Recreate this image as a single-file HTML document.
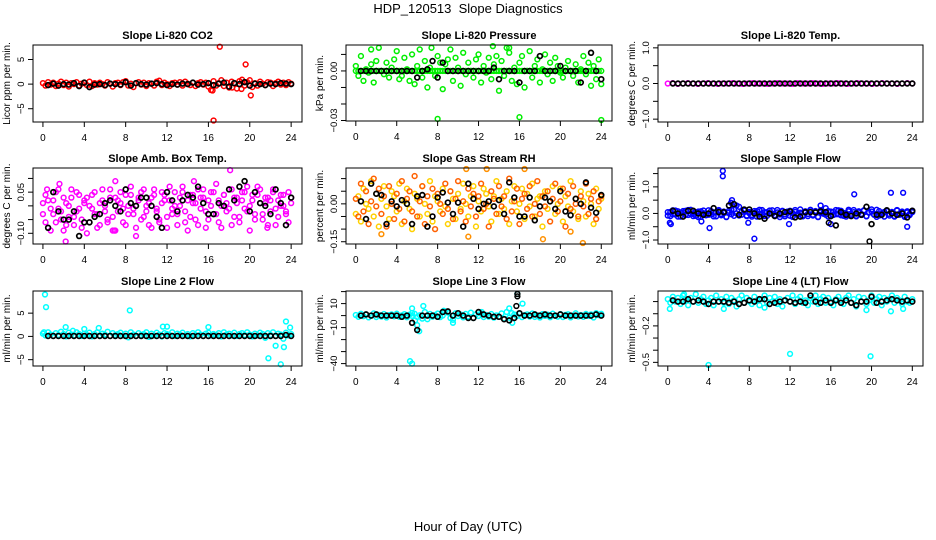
<!DOCTYPE html>
<html><head><meta charset="utf-8">
<style>
html,body{margin:0;padding:0;background:#fff;}
svg{display:block;font-family:"Liberation Sans",Arial,sans-serif;}
</style></head>
<body>
<svg id="chart" width="936" height="540" viewBox="0 0 936 540" xmlns="http://www.w3.org/2000/svg">
<text x="468" y="13" font-size="13" text-anchor="middle">HDP_120513&#160; Slope Diagnostics</text>
<text x="468" y="531" font-size="13" text-anchor="middle">Hour of Day (UTC)</text>
</svg>
<script>
// ---------- DATA ----------
const xTicks = [0,4,8,12,16,20,24];

const co2Vals = [0.2,-0.3,0.4,-0.1,0.3,-0.4,0.1,0.5,-0.2,0.3,-0.5,0.2,0.0,0.4,-0.3,0.1,0.3,-0.2,0.5,-0.4,0.2,-0.1,0.3,0.0,-0.3,0.4,0.1,-0.5,0.2,0.3,-0.2,0.4,0.6,-0.3,0.1,-0.6,0.2,0.4,-0.1,0.3,-0.4,0.2,0.1,-0.3,0.5,0.7,-0.2,0.3,0.0,-0.4,0.2,0.3,-0.1,0.4,-0.3,0.5,0.1,-0.2,0.3,-0.4,0.2,0.4,-0.1,0.3,-0.5,-1.2,0.6,-0.3,0.2,0.8,-0.4,0.3,-0.7,0.5,0.2,-0.9,0.6,0.9,-0.3,0.4,0.8,-0.6,0.2,-0.3,0.5,0.1,-0.2,0.4,0.3,-0.4,0.2,0.5,-0.1,0.3,-0.2,0.4,0.1];
const co2OutX = [16.5,17.1,19.6,20.1,16.4,19.2,18.3];
const co2OutY = [-7.4,7.6,4.0,-2.3,-1.3,-1.0,-0.7];
const co2Black = [-0.2,0.1,-0.3,0,-0.1,0.2,-0.4,0.3,-0.6,-0.1,0,-0.2,0.1,0,-0.1,0.4,-0.3,0.2,0,-0.1,0.1,0.2,0,-0.2,0,-0.1,0.1,0,0.3,-0.1,0,0.2,-0.2,0.1,0.3,-0.5,0.2,0,0.4,-0.3,0.1,0,-0.2,0.1,0,0.2,0.1,0];

const presVals = [0.003,-0.003,0.009,-0.006,0.001,-0.001,0.004,-0.007,0.006,0.014,0,-0.002,0.005,-0.004,0.002,0.007,0.012,-0.005,-0.003,0.008,0.001,-0.006,0.010,-0.008,0.003,0.013,-0.004,0.006,-0.010,0.002,0,-0.003,0.009,0.005,-0.011,0.004,0.007,0.013,-0.006,0.008,0.002,-0.009,0.011,-0.002,0.005,0,-0.004,0.007,0.010,-0.007,0.003,-0.001,0.008,-0.005,0.004,0.009,-0.012,0.006,-0.003,0.014,0.011,-0.006,0.002,-0.008,0.005,0.009,-0.010,0,0.012,-0.004,0.003,0.007,-0.007,0.001,0.010,-0.002,0.005,-0.006,0.008,0.003,-0.001,-0.004,0.002,0.006,0,-0.003,0.004,-0.007,0.001,0.009,-0.002,0.005,-0.009,0.003,-0.005,0.007,-0.008];
const presZero = [0,0,0,0,0,0,0,0,0,0,0,0,0,0,0,0,0,0,0,0,0,0,0,0,0,0,0,0,0,0,0,0,0,0,0,0,0,0,0,0,0,0,0,0,0,0,0,0,0,0,0,0,0,0,0,0,0,0,0,0,0,0,0,0,0,0,0,0,0,0,0,0,0,0,0,0,0,0,0,0,0,0,0,0,0,0,0,0,0,0,0,0,0,0,0,0,0];
const presOutX = [8.0,16.0,24.0,1.5,7.4,13.4,15.0];
const presOutY = [-0.029,-0.028,-0.030,0.013,0.014,0.015,0.014];
const presBlack = [0,0,0,0,0,0,0,0,0,0,0,-0.004,0,0.001,0.006,-0.004,0.005,0,0,0,0,0,0,0,0,0,0.002,-0.005,0,0,0,-0.007,0,0,0,0.009,0,0,0,0.003,0,0,0,-0.007,0,0.011,0,-0.005];

const tempVals = [0,0.01,-0.01,0,0.01,0,-0.01,0,0.01,0,-0.01,0,0,0.01,0,-0.01,0,0.01,0,0,-0.01,0,0.01,0,0,-0.01,0.01,0,0,0.01,0,-0.01,0,0,0.01,0,-0.01,0,0.01,0,0,-0.01,0,0.01,0,0,-0.01,0,0.01,0];
const tempBlack = [0,0,0,0,0,0,0,0,0,0,0,0,0,0,0,0,0,0,0,0,0,0,0,0,0,0,0,0,0,0,0,0,0,0,0,0,0,0,0,0,0,0,0,0,0,0,0,0];

const ambA = [-0.03,0.04,-0.08,-0.01,0.02,-0.06,0.06,-0.02,-0.09,0.01,-0.04,0.03,-0.07,0.05,-0.01,-0.05,0.02,-0.10,0,0.04,-0.03,-0.08,0.01,0.06,-0.02,-0.06,0.03,-0.04,-0.09,0.02,0.05,-0.01,-0.07,0,0.04,-0.03,-0.11,0.03,-0.05,0.06,-0.02,0.01,-0.08,0.04,-0.01,-0.06,0.05,0.02,-0.04,0.07,-0.03,0,-0.07,0.03,0.05,-0.02,-0.09,0.04,0.01,-0.05,0.06,-0.01,0.03,-0.08,0.02,0.05,-0.03,0.08,-0.06,0,0.04,-0.02,0.06,-0.07,0.03,0.01,-0.04,0.05,-0.01,0.07,-0.09,0.02,-0.03,0.04,0.06,-0.05,0.01,0.03,-0.02,0.05,-0.07,0.02,0,0.04,-0.03,-0.06,0.01];
const ambB = [0.01,-0.06,0.02,-0.09,-0.03,0.05,-0.01,-0.05,0.03,-0.07,0,0.06,-0.04,-0.02,0.04,-0.08,0.01,0.03,-0.06,-0.01,0.05,-0.03,-0.07,0.02,0,-0.05,0.06,-0.09,0.03,-0.02,0.01,-0.06,0.04,-0.03,0.07,-0.01,-0.08,0.02,0.05,-0.04,0,-0.07,0.03,0.06,-0.02,-0.05,0.01,0.04,-0.08,0.02,-0.01,0.05,-0.03,0,0.07,-0.06,0.02,-0.04,0.04,0.01,-0.07,0.03,0.06,-0.02,-0.05,0,0.05,-0.03,0.02,-0.08,0.04,0.01,-0.01,0.06,-0.04,0.03,-0.06,0.02,0.05,-0.02,0,0.04,-0.05,0.07,0.01,-0.03,0.03,-0.07,0.02,0.06,-0.01,-0.04,0.04,0,-0.02,0.05,0.03];
const ambOutX = [7.0,18.1,2.2,6.9,21.7,0.4,1.6,14.6];
const ambOutY = [0.09,0.13,-0.13,-0.09,-0.08,0.06,0.08,0.09];
const ambBlack = [-0.08,0.05,-0.02,-0.05,-0.05,-0.02,-0.11,-0.06,-0.06,-0.04,-0.03,0.01,0.02,0,-0.02,0.06,0.01,0,0.03,0.03,0,-0.04,-0.08,0.05,0.02,-0.02,0.02,0.04,0.03,0.07,0.01,-0.03,-0.03,0.01,0,0.06,0.02,0.07,0.09,-0.02,0.05,0.01,0,-0.03,0.06,0.01,-0.07,0.03];

const rhA = [0.02,-0.05,0.08,-0.03,0.05,-0.08,0.01,0.10,-0.01,0.06,-0.04,0.03,-0.09,0.07,0,-0.06,0.04,-0.02,0.09,-0.07,0.02,0.05,-0.03,0.11,-0.05,0.01,0.07,-0.08,0.03,-0.01,0.06,-0.10,0.04,0,-0.04,0.08,-0.02,0.05,-0.06,0.02,0.09,-0.03,0.01,-0.07,0.06,-0.01,0.04,-0.05,0.03,0.08,-0.02,0,-0.09,0.05,0.02,-0.04,0.07,-0.01,0.03,-0.06,0.10,-0.03,0.01,0.06,-0.08,0.02,0.04,-0.02,0.07,-0.05,0,0.09,-0.04,0.03,-0.01,0.05,-0.07,0.02,0.08,-0.03,0.01,0.06,-0.09,0.04,-0.02,0.07,0,-0.05,0.03,-0.01,0.08,-0.04,0.02,0.05,-0.06,0.01,0.03];
const rhB = [-0.04,0.03,-0.07,0.06,0,-0.02,0.09,-0.05,0.04,-0.09,0.02,0.07,-0.01,-0.06,0.05,0.03,-0.03,0.08,-0.08,0.01,0.06,-0.02,-0.10,0.04,0.02,-0.05,0.07,0,-0.04,0.09,-0.07,0.03,0.01,-0.03,0.06,-0.01,-0.08,0.05,0.02,-0.06,0.04,-0.02,0.08,0,-0.05,0.03,0.07,-0.09,0.01,-0.03,0.06,0.04,-0.01,-0.07,0.03,0.09,-0.04,0.02,-0.02,0.05,-0.08,0.01,0.07,-0.03,0,0.06,-0.06,0.04,-0.01,0.08,-0.05,0.02,0.03,-0.09,0.05,-0.02,0.01,0.07,-0.04,0,0.06,-0.07,0.03,-0.01,0.09,-0.03,0.02,-0.06,0.05,0.01,-0.05,0.04,0,-0.08,0.06,-0.02,0.02];
const rhOutX = [10.8,12.8,16.5,22.2,11.0,18.3,21.0,2.5];
const rhOutY = [0.14,0.14,0.14,-0.155,-0.13,-0.14,-0.11,-0.12];
const rhBlack = [0.01,-0.06,0.08,0.04,0.035,-0.08,0.01,-0.01,0.015,0,-0.08,0.03,0.035,-0.09,-0.05,0.025,0.045,0.005,-0.04,0.005,-0.09,0.08,0.02,-0.02,0,0.01,-0.01,0.015,-0.04,0.085,0.025,-0.05,-0.05,0.025,-0.065,-0.01,0.025,0.01,-0.02,0.05,-0.03,-0.045,0.02,0,0.085,-0.015,-0.035,0.035];

const flowA = [0.05,-0.10,0.12,-0.04,0.08,-0.12,0.03,0.10,-0.06,0.14,-0.02,-0.09,0.07,-0.13,0.11,0,-0.05,0.09,-0.11,0.04,0.13,-0.07,0.02,-0.14,0.10,-0.03,0.15,0.30,-0.08,0.06,0.12,-0.10,0.01,-0.06,0.09,-0.12,0.14,-0.03,0.05,-0.09,0.11,-0.01,-0.07,0.13,-0.04,0.08,-0.11,0.02,0.10,-0.13,0.06,-0.02,0.15,-0.08,0.03,-0.10,0.12,-0.05,0.09,-0.14,0.04,-0.01,0.20,-0.12,0.07,-0.06,0.13,-0.03,0.10,-0.09,0.01,0.14,-0.07,0.05,-0.11,0.08,-0.02,0.12,-0.10,0.03,0.15,-0.05,-0.13,0.09,-0.04,0.06,0.11,-0.08,0.02,-0.12,0.13,-0.01,0.07,-0.09,0.04,-0.06,0.10];
const flowB = [-0.08,0.06,-0.03,0.11,-0.12,0.02,0.09,-0.06,0.13,-0.01,-0.10,0.05,-0.14,0.08,0.01,-0.07,0.12,-0.04,0.04,-0.11,0.10,-0.02,0.07,-0.13,0.03,0.14,-0.09,0,0.25,-0.05,0.11,-0.08,0.06,-0.12,0.02,0.09,-0.03,0.13,-0.10,0.05,-0.01,0.12,-0.07,0.04,-0.14,0.10,-0.04,0.07,-0.09,0.01,0.13,-0.06,0.03,-0.11,0.08,-0.02,0.14,-0.08,0.05,-0.13,0.11,0,-0.05,0.09,-0.10,0.06,-0.03,0.12,-0.07,0.02,-0.12,0.08,-0.01,0.13,-0.09,0.04,-0.06,0.10,-0.11,0.03,0.07,-0.04,0.14,-0.08,0.01,-0.12,0.09,-0.02,0.06,-0.10,0.11,-0.05,0.03,-0.13,0.08,-0.01,0.05];
const flowOutX = [0.2,0.3,4.1,5.4,5.4,6.3,6.2,8.5,18.3,21.9,23.1,23.5,11.9,7.9,3.3,16.0,15.0];
const flowOutY = [-0.35,-0.40,-0.55,1.60,1.40,0.50,0.40,-0.95,0.72,0.78,0.78,-0.50,-0.40,-0.35,-0.30,-0.40,0.30];
const flowBlack = [0.1,0.0,-0.12,0.1,0.1,0.0,-0.05,0.0,0.2,0.05,0.05,0.3,0.35,-0.05,0.15,0.15,0.0,-0.12,-0.2,0.0,-0.1,0.0,0.05,0.08,-0.15,-0.12,0.05,0.05,0.04,0.08,0.05,-0.1,-0.45,0.05,-0.05,-0.1,0.0,-0.05,0.25,-0.4,-0.05,-0.05,0.12,0.0,-0.05,0.0,-0.15,0.1];
const flowBlackOutX = [19.8,15.8];
const flowBlackOutY = [-1.05,-0.35];

const l2Vals = [0.6,0.2,0.9,0.4,0.1,0.7,0.3,1.0,0.5,0.0,0.8,0.4,0.2,0.9,0.5,0.1,0.6,0.3,0.8,0.0,0.5,0.9,0.2,0.6,0.4,1.0,0.1,0.7,0.3,0.5,0.8,0.2,0.6,-0.2,0.9,0.4,0.1,0.7,0.3,0.5,0.9,-0.1,0.6,0.2,0.8,0.4,0.0,0.7,0.5,0.3,0.9,0.1,0.6,0.4,0.8,0.2,0.5,0.0,0.7,0.3,0.9,0.4,0.1,0.6,0.8,0.2,0.5,0.3,0.7,0.0,0.9,0.4,0.6,0.2,0.8,0.1,0.5,0.7,0.3,0.9,0.4,0.0,0.6,0.2,0.8,0.5,-0.3,0.7,0.3,0.9,0.1,0.6,0.4,-0.5,0.8,0.2,0.5];
const l2OutX = [0.2,0.3,8.4,11.6,12.0,16.0,2.2,2.9,5.4,4.0,21.8,22.5,23.0,23.3,23.5,23.9,0.1];
const l2OutY = [9.0,6.3,5.6,2.1,2.1,2.0,2.0,1.2,1.8,1.6,-4.7,-2.0,-6.0,-2.3,3.2,1.9,0.9];
const l2Black = [0.1,0.1,0.1,0.1,0.1,0.1,0.1,0.1,0.1,0.1,0.1,0.1,0.1,0.1,0.1,0.1,0.1,0.1,0.1,0.1,0.1,0.1,0.1,0.1,0.1,0.1,0.1,0.1,0.1,0.1,0.1,0.1,0.1,0.1,0.1,0.1,0.1,0.1,0.1,0.1,0.1,0.1,0.1,0.1,0.1,0.1,0.3,0.1];

const l3Vals = [0.5,-1.0,1.5,-0.5,1.0,-1.5,0.0,1.8,-1.2,0.6,-0.8,1.3,-1.6,0.4,1.0,-0.6,1.6,-1.0,0.2,1.2,-1.4,0.8,-0.2,1.5,-1.1,0.3,-2.5,3.0,-3.0,1.4,-0.9,0.5,1.7,-1.3,0.1,3.5,2.5,-2.0,-3.5,1.9,-0.4,0.9,-1.5,1.4,-0.7,2.5,-2.0,1.1,-0.3,1.6,-1.2,0.5,-0.9,1.3,-1.7,0.2,-1.0,1.8,-2.5,3.0,-1.8,2.0,0.9,-0.5,1.5,-1.3,0.4,1.0,-0.8,1.7,-1.1,0.3,-1.6,1.2,-0.2,0.8,-1.4,1.6,0.0,-0.9,1.3,-1.2,0.6,1.1,-1.5,0.2,1.9,-0.7,0.5,-1.0,1.4,-0.3,1.0,-1.6,2.0,0.4,1.5];
const l3OutX = [5.3,5.5,5.5,5.8,6.0,6.2,6.6,8.6,9.5,12.3,15.0,15.3,16.3,15.8,5.5];
const l3OutY = [-38,-40,2,-4,-8,-13,8,4,-6,3,6,-6,10,18,6];
const l3Black = [0,1,0,1,0,0,0,0,-1,0,-6,-12,0,0,0,-1,3,3.5,0,2,0,-2,-2,3,1,0,-1,-1,-3,-4,-2,2,0,0,1,0,1,0,0,1,0,0,0,0,0,0,1,0];
const l3BlackOutX = [15.8,15.8,15.7];
const l3BlackOutY = [18,16,8];

const l4Vals = [0.02,-0.01,0.04,0.0,0.03,-0.02,0.05,0.01,-0.03,0.03,0.0,0.06,-0.01,0.02,0.04,-0.02,0.01,0.03,-0.03,0.05,0.0,0.02,-0.01,0.04,-0.02,0.03,0.01,-0.04,0.02,0.05,-0.01,0.03,0.0,-0.02,0.04,0.01,-0.03,0.02,0.05,-0.01,0.03,0.0,0.04,-0.02,0.02,-0.04,0.01,0.03,0.0,0.05,-0.02,0.02,0.04,-0.01,0.01,-0.03,0.03,0.0,0.05,-0.02,0.02,0.04,-0.01,0.03,0.0,-0.03,0.02,0.04,0.01,-0.02,0.03,0.05,-0.01,0.02,-0.04,0.04,0.0,0.03,-0.02,0.01,0.05,-0.01,0.02,0.04,-0.03,0.03,0.0,0.02,0.05,-0.01,0.03,0.01,-0.02,0.04,0.0,-0.01,0.02];
const l4OutX = [0.2,4.0,12.0,19.9,21.9,23.1,19.5,9.5,5.5,1.6];
const l4OutY = [-0.06,-0.55,-0.43,-0.45,-0.08,-0.06,-0.07,-0.05,-0.06,0.06];
const l4Black = [0.01,0.0,0.0,0.02,0.0,0.01,0.0,-0.02,0.0,0.0,0.0,-0.01,0.0,-0.02,-0.01,0.01,0.0,0.02,0.02,-0.02,-0.01,0.0,0.01,0.0,-0.01,0.0,-0.01,0.05,0.0,-0.01,0.01,-0.01,0.01,-0.01,0.01,-0.01,-0.03,0.0,0.0,0.04,-0.01,0.0,0.01,0.02,0.01,0.0,0.01,0.0];

// ---------- DRAWING ----------
const NS = 'http://www.w3.org/2000/svg';
const svg = document.getElementById('chart');
const XMIN = -0.96, XMAX = 25.05;

function mk(tag, attrs, parent){
  const e = document.createElementNS(NS, tag);
  for (const k in attrs) e.setAttribute(k, attrs[k]);
  (parent||svg).appendChild(e);
  return e;
}

const panels = [
 {key:'co2', title:'Slope Li-820 CO2', ylab:'Licor ppm per min.', L:33,R:302,T:45,B:122, y0:-7.7,y1:7.95,
  ticks:[-5,0,5], labels:{'-5':'-5','0':'0','5':'5'},
  series:[{v:co2Vals,c:'#ff0000'},{ox:co2OutX,oy:co2OutY,c:'#ff0000'},{b:co2Black,c:'#000000'}]},
 {key:'pressure', title:'Slope Li-820 Pressure', ylab:'kPa per min.', L:346,R:612,T:45,B:121, y0:-0.0303,y1:0.0157,
  ticks:[0.01,0,-0.01,-0.02,-0.03], labels:{'0':'0.00','-0.03':'-0.03'},
  series:[{v:presVals,c:'#00ee00'},{v:presZero,c:'#00ee00'},{ox:presOutX,oy:presOutY,c:'#00ee00'},{b:presBlack,c:'#000000'}]},
 {key:'li820-temp', title:'Slope Li-820 Temp.', ylab:'degrees C per min.', L:658,R:923,T:45,B:122, y0:-1.08,y1:1.08,
  ticks:[1,0.5,0,-0.5,-1], labels:{'1':'1.0','0':'0.0','-1':'-1.0'},
  series:[{v:tempVals,c:'#ff00ff'},{b:tempBlack,c:'#000000'}]},
 {key:'amb-box-temp', title:'Slope Amb. Box Temp.', ylab:'degrees C per min.', L:33,R:302,T:168,B:244, y0:-0.139,y1:0.138,
  ticks:[0.1,0.05,0,-0.05,-0.1], labels:{'0.05':'0.05','-0.1':'-0.10'},
  series:[{v:ambA,c:'#ff00ff'},{v:ambB,c:'#ff00ff'},{ox:ambOutX,oy:ambOutY,c:'#ff00ff'},{b:ambBlack,c:'#000000'}]},
 {key:'gas-stream-rh', title:'Slope Gas Stream RH', ylab:'percent per min.', L:346,R:612,T:168,B:244, y0:-0.159,y1:0.142,
  ticks:[0.1,0.05,0,-0.05,-0.1,-0.15], labels:{'0':'0.00','-0.15':'-0.15'},
  series:[{v:rhB,c:'#ffd000'},{v:rhA,c:'#ff6000'},{ox:rhOutX,oy:rhOutY,c:'#ff9000'},{b:rhBlack,c:'#000000'}]},
 {key:'sample-flow', title:'Slope Sample Flow', ylab:'ml/min per min.', L:658,R:923,T:168,B:244, y0:-1.15,y1:1.71,
  ticks:[1.5,1,0.5,0,-0.5,-1], labels:{'1':'1.0','0':'0.0','-1':'-1.0'},
  series:[{v:flowA,c:'#0000ff'},{v:flowB,c:'#0000ff'},{ox:flowOutX,oy:flowOutY,c:'#0000ff'},{b:flowBlack,c:'#000000'},{ox:flowBlackOutX,oy:flowBlackOutY,c:'#000000'}]},
 {key:'line2-flow', title:'Slope Line 2 Flow', ylab:'ml/min per min.', L:33,R:302,T:291,B:366, y0:-6.36,y1:9.76,
  ticks:[5,0,-5], labels:{'5':'5','0':'0','-5':'-5'},
  series:[{v:l2Vals,c:'#00ffff'},{ox:l2OutX,oy:l2OutY,c:'#00ffff'},{b:l2Black,c:'#000000'}]},
 {key:'line3-flow', title:'Slope Line 3 Flow', ylab:'ml/min per min.', L:346,R:612,T:291,B:366, y0:-42,y1:20.5,
  ticks:[20,10,0,-10,-20,-30,-40], labels:{'10':'10','-10':'-10','-40':'-40'},
  series:[{v:l3Vals,c:'#00ffff'},{ox:l3OutX,oy:l3OutY,c:'#00ffff'},{b:l3Black,c:'#000000'},{ox:l3BlackOutX,oy:l3BlackOutY,c:'#000000'}]},
 {key:'line4-flow', title:'Slope Line 4 (LT) Flow', ylab:'ml/min per min.', L:658,R:923,T:291,B:366, y0:-0.53,y1:0.087,
  ticks:[0,-0.1,-0.2,-0.3,-0.4,-0.5], labels:{'-0.2':'-0.2','-0.5':'-0.5'},
  series:[{v:l4Vals,c:'#00ffff'},{ox:l4OutX,oy:l4OutY,c:'#00ffff'},{b:l4Black,c:'#000000'}]}
];

panels.forEach(p => {
  const g = mk('g', {});
  
  
  const xs = v => p.L + (v - XMIN) / (XMAX - XMIN) * (p.R - p.L);
  const ys = v => p.B - (v - p.y0) / (p.y1 - p.y0) * (p.B - p.T);

  const title = mk('text', {x:(p.L+p.R)/2, y:p.T-6, 'font-size':11, 'font-weight':'bold', 'text-anchor':'middle'}, g);
  title.textContent = p.title;
  
  

  const yl = mk('text', {transform:`translate(${p.L-23},${(p.T+p.B)/2}) rotate(-90)`, 'font-size':10, 'text-anchor':'middle'}, g);
  yl.textContent = p.ylab;
  
  

  const pts = mk('g', {fill:'none', 'stroke-width':1.5}, g);
  
  
  const clip = v => Math.max(p.T+1, Math.min(p.B-1, v));
  p.series.forEach(s => {
    if (s.v) {
      s.v.forEach((val, i) => {
        const c = mk('circle', {cx:xs(i*24/(s.v.length-1)), cy:clip(ys(val)), r:2.4, stroke:s.c}, pts);
        
        
      });
    } else if (s.ox) {
      s.ox.forEach((xv, i) => {
        const c = mk('circle', {cx:xs(xv), cy:clip(ys(s.oy[i])), r:2.4, stroke:s.c}, pts);
        
        
      });
    } else if (s.b) {
      s.b.forEach((val, i) => {
        const c = mk('circle', {cx:xs(0.5 + i*23.5/(s.b.length-1)), cy:clip(ys(val)), r:2.4, stroke:s.c, 'stroke-width':1.7}, pts);
        
        
      });
    }
  });

  const box = mk('rect', {x:p.L, y:p.T, width:p.R-p.L, height:p.B-p.T, fill:'none', stroke:'#000', 'stroke-width':1}, g);
  
  

  const xa = mk('g', {}, g);
  
  
  xTicks.forEach(t => {
    mk('line', {x1:xs(t), x2:xs(t), y1:p.B, y2:p.B+5, stroke:'#000'}, xa);
    const tl = mk('text', {x:xs(t), y:p.B+19, 'font-size':10, 'text-anchor':'middle'}, xa);
    tl.textContent = String(t);
    
    
  });

  const ya = mk('g', {}, g);
  
  
  p.ticks.forEach(t => {
    mk('line', {x1:p.L-5, x2:p.L, y1:ys(t), y2:ys(t), stroke:'#000'}, ya);
    const lab = p.labels[String(t)];
    if (lab !== undefined) {
      const tl = mk('text', {transform:`translate(${p.L-9},${ys(t)}) rotate(-90)`, 'font-size':9.5, 'text-anchor':'middle'}, ya);
      tl.textContent = lab.replace('-', '\u2212');
      
      
    }
  });
});
</script>
</body></html>
